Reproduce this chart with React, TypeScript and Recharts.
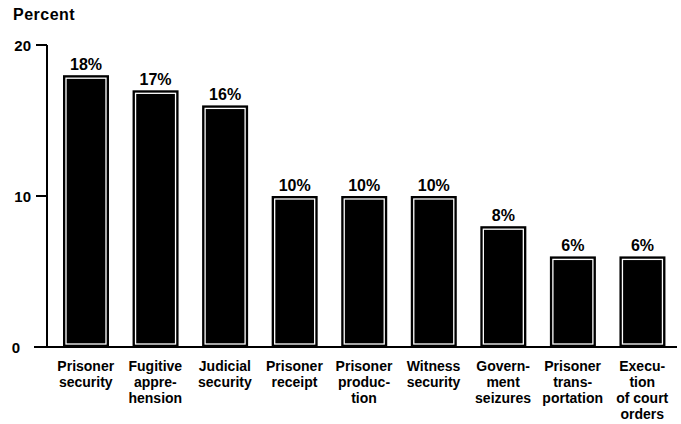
import { BarChart, Bar, XAxis, YAxis, LabelList } from "recharts";

// duty categories, line breaks as printed under each bar
const categories = [
  "Prisoner\nsecurity",
  "Fugitive\nappre-\nhension",
  "Judicial\nsecurity",
  "Prisoner\nreceipt",
  "Prisoner\nproduc-\ntion",
  "Witness\nsecurity",
  "Govern-\nment\nseizures",
  "Prisoner\ntrans-\nportation",
  "Execu-\ntion\nof court\norders",
];

const shares = [18, 17, 16, 10, 10, 10, 8, 6, 6];

const yTicks = [0, 10, 20];

const FONT = "'Liberation Sans', Arial, Helvetica, sans-serif";

const data = categories.map((name, i) => ({ name, value: shares[i] }));

function OutlinedBar(props: any) {
  const { x, y, width, height } = props;
  if (!height || height <= 0) return null;
  return (
    <g>
      <rect x={x} y={y} width={width} height={height} fill="#000" />
      <rect
        x={x + 3}
        y={y + 3}
        width={width - 6}
        height={height - 6}
        fill="none"
        stroke="#fff"
        strokeWidth={1.3}
      />
    </g>
  );
}

function CategoryTick(props: any) {
  const { x, y, payload } = props;
  const lines: string[] = String(payload.value).split("\n");
  return (
    <text
      x={x}
      y={y + 24}
      textAnchor="middle"
      fontFamily={FONT}
      fontWeight="bold"
      fontSize={14}
      fill="#000"
    >
      {lines.map((line, i) => (
        <tspan key={i} x={x} dy={i === 0 ? 0 : 16}>
          {line}
        </tspan>
      ))}
    </text>
  );
}

function PercentTick(props: any) {
  const { x, y, payload } = props;
  const zero = payload.value === 0;
  return (
    <g>
      <line
        x1={x - (zero ? 13 : 11)}
        x2={x}
        y1={y}
        y2={y}
        stroke="#000"
        strokeWidth={2}
      />
      <text
        x={zero ? x - 27 : x - 16}
        y={y + 5.5}
        textAnchor="end"
        fontFamily={FONT}
        fontWeight="bold"
        fontSize={15}
        fill="#000"
      >
        {payload.value}
      </text>
    </g>
  );
}

export default function App() {
  return (
    <div style={{ position: "relative", width: 681, height: 424, background: "#fff" }}>
      <style>{`body { margin: 0; }`}</style>
      <div
        style={{
          position: "absolute",
          left: 13,
          top: 6,
          fontFamily: FONT,
          fontWeight: "bold",
          fontSize: 16,
          letterSpacing: 0.5,
          color: "#000",
        }}
      >
        Percent
      </div>
      <BarChart
        width={681}
        height={424}
        data={data}
        margin={{ top: 45, right: 4, left: 0, bottom: 7 }}
      >
        <XAxis
          dataKey="name"
          interval={0}
          height={70}
          padding={{ left: 4, right: 0 }}
          axisLine={{ stroke: "#000", strokeWidth: 2 }}
          tickLine={false}
          tickSize={0}
          tickMargin={0}
          tick={<CategoryTick />}
        />
        <YAxis
          width={47}
          domain={[0, 20]}
          ticks={yTicks}
          axisLine={{ stroke: "#000", strokeWidth: 2 }}
          tickLine={false}
          tickSize={0}
          tickMargin={0}
          tick={<PercentTick />}
        />
        <Bar
          dataKey="value"
          barSize={46}
          shape={<OutlinedBar />}
          isAnimationActive={false}
        >
          <LabelList
            dataKey="value"
            position="top"
            offset={5}
            formatter={(v: any) => `${v}%`}
            style={{ fontFamily: FONT, fontWeight: "bold", fontSize: 16, fill: "#000" }}
          />
        </Bar>
      </BarChart>
    </div>
  );
}
